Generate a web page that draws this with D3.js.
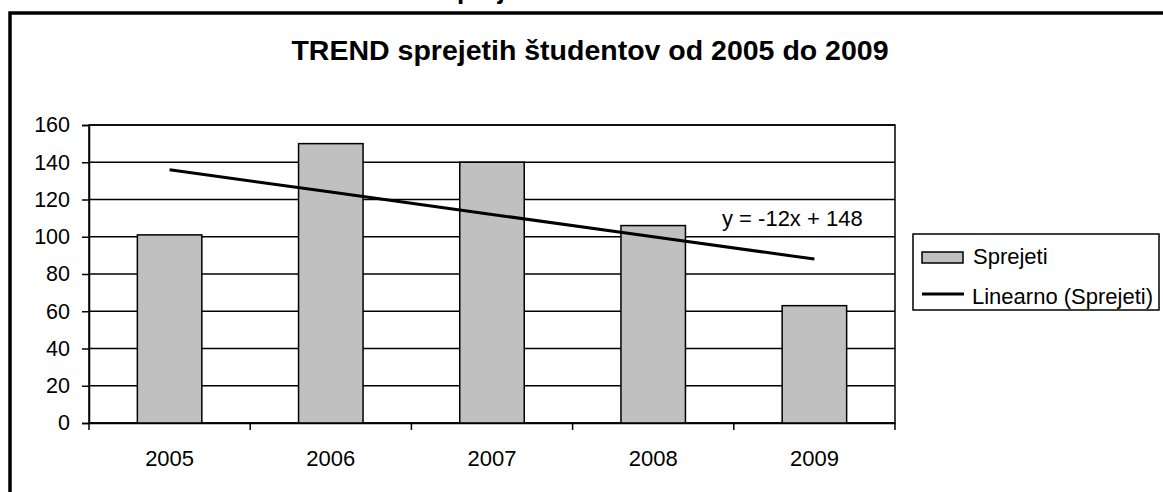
<!DOCTYPE html>
<html><head><meta charset="utf-8">
<script src="https://cdn.jsdelivr.net/npm/d3@7"></script>
<style>body{margin:0;background:#fff;} text{font-family:"Liberation Sans",Arial,sans-serif;}</style>
</head><body>
<svg id="c" width="1163" height="492"></svg>
<script>
const categories = ["2005","2006","2007","2008","2009"];
const values = [101, 150, 140, 106, 63];
const yTicks = [0,20,40,60,80,100,120,140,160];
const title = "TREND sprejetih študentov od 2005 do 2009";
const cutText = "prejeti";
const seriesName = "Sprejeti";
const trendName = "Linearno (Sprejeti)";
const trendSlope = -12, trendIntercept = 148;
const trendLabel = "y = -12x + 148";

const svg = d3.select("#c");
// partially visible text above the frame
svg.append("text").attr("x",457).attr("y",-1).attr("font-size",26).attr("font-weight","bold").text(cutText);
// outer frame
svg.append("rect").attr("x",10).attr("y",13).attr("width",1200).attr("height",520)
  .attr("fill","none").attr("stroke","#000").attr("stroke-width",3.5);

svg.append("text").attr("x",590).attr("y",60).attr("text-anchor","middle")
  .attr("font-size",28.5).attr("font-weight","bold").text(title);

const L=89,R=895,T=125,B=423;
const x = d3.scaleBand().domain(categories).range([L,R]).paddingInner(0.6).paddingOuter(0.3);
const xb = d3.scaleBand().domain(categories).range([L,R]);
const y = d3.scaleLinear().domain([0,160]).range([B,T]);

// plot border
svg.append("rect").attr("x",L).attr("y",T).attr("width",R-L).attr("height",B-T)
  .attr("fill","#fff").attr("stroke","#000").attr("stroke-width",1.5);
// gridlines
svg.append("g").selectAll("line").data(yTicks).join("line")
  .attr("x1",L).attr("x2",R).attr("y1",d=>y(d)).attr("y2",d=>y(d))
  .attr("stroke","#000").attr("stroke-width",1.5);

// bars
svg.append("g").selectAll("rect").data(values).join("rect")
  .attr("x",(d,i)=>x(categories[i])).attr("width",x.bandwidth())
  .attr("y",d=>y(d)).attr("height",d=>B-y(d))
  .attr("fill","#c0c0c0").attr("stroke","#000").attr("stroke-width",1.5);

// y axis
const ya = svg.append("g").attr("transform",`translate(${L},0)`)
  .call(d3.axisLeft(y).tickValues(yTicks).tickSize(7).tickPadding(12));
ya.select(".domain").attr("stroke","#000").attr("stroke-width",1.5);
ya.selectAll(".tick line").attr("stroke","#000").attr("stroke-width",1.5);
ya.selectAll(".tick text").attr("font-size",21.5).attr("fill","#000")
  .attr("font-family","Liberation Sans, Arial, sans-serif");

// x axis
const xa = svg.append("g").attr("transform",`translate(0,${B})`)
  .call(d3.axisBottom(xb).tickSize(0).tickPadding(27));
xa.select(".domain").attr("stroke","#000").attr("stroke-width",1.5);
xa.selectAll(".tick text").attr("font-size",22).attr("fill","#000")
  .attr("font-family","Liberation Sans, Arial, sans-serif");
const bounds = categories.map(c=>xb(c)).concat([R]);
svg.append("g").selectAll("line").data(bounds).join("line")
  .attr("x1",d=>d).attr("x2",d=>d).attr("y1",B).attr("y2",B+7)
  .attr("stroke","#000").attr("stroke-width",1.5);

// trend line
const trend = categories.map((c,i)=>({c, v: trendSlope*(i+1)+trendIntercept}));
svg.append("path").datum(trend)
  .attr("d", d3.line().x(d=>xb(d.c)+xb.bandwidth()/2).y(d=>y(d.v)))
  .attr("fill","none").attr("stroke","#000").attr("stroke-width",3);
svg.append("text").attr("x",722).attr("y",226).attr("font-size",22).text(trendLabel);

// legend
const lg = svg.append("g");
lg.append("rect").attr("x",913).attr("y",234).attr("width",246).attr("height",76)
  .attr("fill","#fff").attr("stroke","#000").attr("stroke-width",1.5);
lg.append("rect").attr("x",922).attr("y",252).attr("width",41).attr("height",11)
  .attr("fill","#c0c0c0").attr("stroke","#000").attr("stroke-width",1.5);
lg.append("text").attr("x",973).attr("y",264).attr("font-size",22).text(seriesName);
lg.append("line").attr("x1",922).attr("x2",964).attr("y1",294).attr("y2",294)
  .attr("stroke","#000").attr("stroke-width",3);
lg.append("text").attr("x",972).attr("y",304).attr("font-size",22).text(trendName);
</script>
</body></html>
